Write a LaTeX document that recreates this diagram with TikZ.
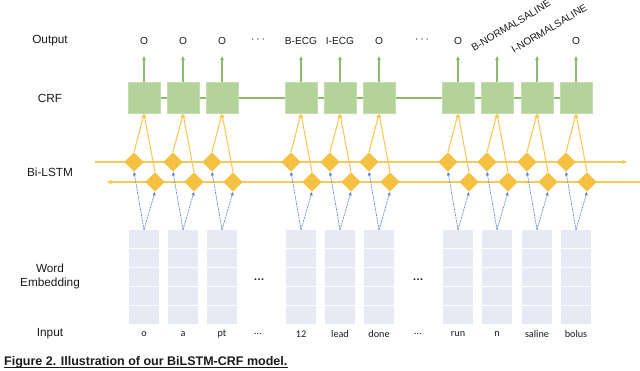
\documentclass[tikz,border=0pt]{standalone}
\usepackage{fontspec}
\setmainfont{Liberation Sans}
\newfontfamily\calfont{Carlito}
\usetikzlibrary{shapes.geometric,arrows.meta,calc}
\pgfdeclarelayer{background}
\pgfsetlayers{background,main}
\definecolor{crffill}{HTML}{B4D39A}
\definecolor{crfedge}{HTML}{C4DCAE}
\definecolor{gline}{HTML}{8CBB6E}
\definecolor{dfill}{HTML}{F6C142}
\definecolor{yline}{HTML}{F8C95A}
\definecolor{bline}{HTML}{5A7FCB}
\definecolor{embfill}{HTML}{E7E9F4}
\definecolor{txt}{HTML}{1A1A1A}
\begin{document}
\begin{tikzpicture}[x=1pt,y=-1pt,
  crfbox/.style={rectangle,fill=crffill,draw=crfedge,line width=0.5pt,minimum width=32pt,minimum height=31pt,inner sep=0},
  lstm/.style={diamond,fill=dfill,draw=none,minimum width=19.5pt,minimum height=19.5pt,inner sep=0},
  embbox/.style={rectangle,fill=embfill,draw=none,minimum width=30pt,minimum height=94pt,inner sep=0,
    path picture={\foreach \k in {1,2,3,4}{\draw[white,line width=0.8pt]
      ($(path picture bounding box.north west)!\k/5!(path picture bounding box.south west)$) --
      ($(path picture bounding box.north east)!\k/5!(path picture bounding box.south east)$);}}},
  sidelab/.style={font=\fontsize{11.8}{14}\selectfont,text=txt,align=center,inner sep=0},
  outlab/.style={font=\fontsize{10.2}{12}\selectfont,text=txt,inner sep=0},
  inlab/.style={font=\calfont\fontsize{10.2}{12}\selectfont,text=txt,inner sep=0},
  garrow/.style={draw=gline,line width=1.1pt,-{Triangle[length=4pt,width=3.6pt]}},
  gchain/.style={draw=gline,line width=1.3pt},
  yarrow/.style={draw=yline,line width=1.1pt,-{Triangle[length=4pt,width=3.6pt]}},
  hline/.style={draw=yline,line width=1.6pt},
  barrow/.style={draw=bline,line width=0.6pt,dash pattern=on 2pt off 0.8pt,-{Triangle[length=3.5pt,width=3pt]}}
]
\useasboundingbox (0,0) rectangle (640,370);

% side labels
\node[sidelab] (lout) at (50,41) {Output};
\node[sidelab] (lcrf) at (50,98) {CRF};
\node[sidelab] (llstm) at (50,172) {Bi-LSTM};
\node[sidelab] (lemb) at (50,276) {Word\\Embedding};
\node[sidelab] (lin) at (50,334) {Input};

\foreach \i/\x/\w in {1/144/o,2/183/a,3/222/pt,4/301/12,5/340/lead,6/379/done,7/458/run,8/497/n,9/537/saline,10/576/bolus}{
  \node[crfbox] (crf\i) at (\x,98) {};
  \node[lstm] (up\i) at (\x-10,162) {};
  \node[lstm] (dn\i) at (\x+11,182) {};
  \node[embbox] (emb\i) at (\x,277) {};
  \node[inlab] (in\i) at (\x,334) {\w};
  \coordinate (tip\i) at (\x,56);
}

% output labels
\foreach \i/\x/\o in {1/144/O,2/183/O,3/222/O,4/301/B-ECG,5/340/I-ECG,6/379/O,7/458/O,10/576/O}{
  \node[outlab] (out\i) at (\x,41) {\o};
}
\node[outlab,rotate=31,anchor=base west] (out8) at (474,52) {B-NORMALSALINE};
\node[outlab,rotate=31,anchor=base west] (out9) at (514,54) {I-NORMALSALINE};

% ellipses
\node[font=\fontsize{13}{14}\selectfont,text=txt,inner sep=0] (od1) at (258,40) {$\cdots$};
\node[font=\fontsize{13}{14}\selectfont,text=txt,inner sep=0] (od2) at (422,40) {$\cdots$};
\node[font=\bfseries\fontsize{11}{12}\selectfont,text=txt,inner sep=0] (ed1) at (259,280) {\dots};
\node[font=\bfseries\fontsize{11}{12}\selectfont,text=txt,inner sep=0] (ed2) at (418,280) {\dots};
\node[inlab] (id1) at (258,334) {\dots};
\node[inlab] (id2) at (418,334) {\dots};

% horizontal LSTM lines
\coordinate (fwdA) at (95,162);
\coordinate (fwdB) at (627,162);
\coordinate (bwdA) at (640,182);
\coordinate (bwdB) at (107,182);

\begin{pgfonlayer}{background}
  \draw[gchain] (crf1) -- (crf10);
  \draw[hline,-{Triangle[length=4.5pt,width=4pt]}] (fwdA) -- (fwdB);
  \draw[hline,-{Triangle[length=4.5pt,width=4pt]}] (bwdA) -- (bwdB);
  \foreach \i in {1,...,10}{
    \draw[garrow] (crf\i.north) -- (tip\i);
    \draw[yarrow] (up\i.north) -- (crf\i.south);
    \draw[yarrow] (dn\i.north) -- (crf\i.south);
    \draw[barrow] (emb\i.north) -- (up\i.south);
    \draw[barrow] (emb\i.north) -- (dn\i.south);
  }
\end{pgfonlayer}

% caption
\node[anchor=base west,inner sep=0,text=txt,font=\bfseries\fontsize{12.5}{14}\selectfont] (cap) at (4,365.5) {Figure 2. Illustration of our BiLSTM-CRF model.};
\draw[txt,line width=0.9pt] ([yshift=-2pt]cap.base west) -- ([yshift=-2pt]cap.base east);
\end{tikzpicture}
\end{document}
